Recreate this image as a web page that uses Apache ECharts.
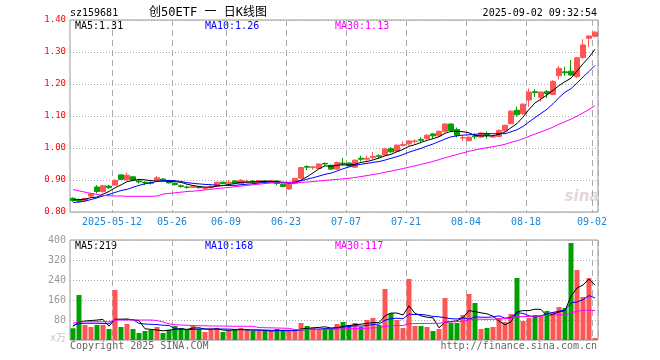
<!DOCTYPE html>
<html><head><meta charset="utf-8">
<script src="https://cdn.jsdelivr.net/npm/echarts@6/dist/echarts.min.js"></script>
<style>html,body{margin:0;padding:0;background:#fff}#c{width:660px;height:360px}</style>
</head><body><div id="c"></div>
<script>
const dates = ['2025-04-28','2025-04-29','2025-04-30','2025-05-06','2025-05-07','2025-05-08','2025-05-09','2025-05-12','2025-05-13','2025-05-14',
'2025-05-15','2025-05-16','2025-05-19','2025-05-20','2025-05-21','2025-05-22','2025-05-23','2025-05-26','2025-05-27','2025-05-28',
'2025-05-29','2025-05-30','2025-06-03','2025-06-04','2025-06-05','2025-06-06','2025-06-09','2025-06-10','2025-06-11','2025-06-12',
'2025-06-13','2025-06-16','2025-06-17','2025-06-18','2025-06-19','2025-06-20','2025-06-23','2025-06-24','2025-06-25','2025-06-26',
'2025-06-27','2025-06-30','2025-07-01','2025-07-02','2025-07-03','2025-07-04','2025-07-07','2025-07-08','2025-07-09','2025-07-10',
'2025-07-11','2025-07-14','2025-07-15','2025-07-16','2025-07-17','2025-07-18','2025-07-21','2025-07-22','2025-07-23','2025-07-24',
'2025-07-25','2025-07-28','2025-07-29','2025-07-30','2025-07-31','2025-08-01','2025-08-04','2025-08-05','2025-08-06','2025-08-07',
'2025-08-08','2025-08-11','2025-08-12','2025-08-13','2025-08-14','2025-08-15','2025-08-18','2025-08-19','2025-08-20','2025-08-21',
'2025-08-22','2025-08-25','2025-08-26','2025-08-27','2025-08-28','2025-08-29','2025-09-01','2025-09-02'];
const opens = [0.843,0.838,0.836,0.850,0.878,0.864,0.881,0.884,0.916,0.901, 0.910,0.897,0.893,0.892,0.899,0.903,0.896,0.889,0.882,0.878,
0.877,0.878,0.874,0.876,0.881,0.893,0.890,0.897,0.888,0.893, 0.896,0.892,0.897,0.893,0.897,0.887,0.872,0.889,0.906,0.942,
0.939,0.936,0.952,0.946,0.934,0.953,0.953,0.940,0.968,0.965, 0.970,0.976,0.978,0.998,0.990,1.008,1.013,1.020,1.027,1.030,
1.044,1.038,1.052,1.075,1.058,1.031,1.023,1.038,1.034,1.045, 1.034,1.036,1.054,1.076,1.118,1.107,1.150,1.176,1.158,1.176,
1.167,1.226,1.238,1.240,1.223,1.283,1.343,1.349];
const closes = [0.836,0.834,0.842,0.857,0.864,0.882,0.876,0.899,0.902,0.915, 0.900,0.894,0.891,0.890,0.907,0.900,0.891,0.886,0.880,0.877,
0.880,0.876,0.876,0.879,0.893,0.889,0.893,0.890,0.899,0.895, 0.893,0.898,0.895,0.898,0.889,0.880,0.886,0.905,0.939,0.940,
0.941,0.950,0.950,0.934,0.955,0.950,0.944,0.962,0.965,0.968, 0.974,0.974,0.997,0.988,1.009,1.011,1.022,1.022,1.024,1.040,
1.038,1.052,1.075,1.055,1.040,1.033,1.034,1.035,1.047,1.039, 1.037,1.055,1.071,1.115,1.104,1.137,1.175,1.173,1.175,1.170,
1.208,1.249,1.235,1.228,1.282,1.322,1.350,1.362];
const lows = [0.832,0.830,0.834,0.846,0.858,0.860,0.872,0.882,0.900,0.898, 0.897,0.889,0.884,0.886,0.896,0.898,0.889,0.882,0.876,0.873,
0.875,0.873,0.868,0.874,0.878,0.886,0.887,0.888,0.886,0.890, 0.889,0.890,0.892,0.891,0.884,0.878,0.869,0.887,0.903,0.930,
0.932,0.934,0.945,0.931,0.932,0.944,0.942,0.938,0.958,0.958, 0.964,0.967,0.976,0.985,0.988,1.005,1.008,1.013,1.014,1.027,
1.030,1.035,1.048,1.050,1.033,1.021,1.020,1.028,1.032,1.029, 1.032,1.034,1.051,1.074,1.098,1.103,1.129,1.160,1.145,1.156,
1.165,1.214,1.226,1.225,1.218,1.279,1.316,1.346];
const highs = [0.846,0.842,0.845,0.860,0.884,0.885,0.885,0.902,0.917,0.923, 0.911,0.899,0.896,0.896,0.912,0.906,0.900,0.893,0.886,0.882,
0.882,0.880,0.878,0.884,0.895,0.896,0.899,0.899,0.903,0.902, 0.900,0.900,0.899,0.900,0.899,0.889,0.887,0.907,0.941,0.946,
0.944,0.952,0.955,0.948,0.957,0.969,0.955,0.964,0.976,0.976, 0.987,0.980,1.001,1.003,1.011,1.021,1.024,1.027,1.033,1.043,
1.046,1.055,1.077,1.077,1.064,1.038,1.036,1.046,1.049,1.052, 1.040,1.058,1.073,1.118,1.129,1.140,1.186,1.184,1.177,1.181,
1.212,1.256,1.254,1.275,1.285,1.340,1.352,1.365];
const volumes = [47,180,60,52,60,60,44,200,52,64, 44,28,36,40,52,28,40,56,48,40, 56,44,32,44,48,32,36,44,48,36,
36,36,36,36,44,36,36,36,68,56, 48,44,48,44,64,72,60,68,52,80, 88,60,204,107,80,48,244,56,56,52,
36,44,168,68,68,100,184,148,44,48, 52,88,72,104,248,76,88,100,100,116, 112,132,128,388,280,172,248,8];
const ma5Lead = [0.838,0.839,0.840,0.845];
const ma10Lead = [0.830,0.831,0.834,0.839,0.844,0.850,0.855,0.861,0.867];
const ma30Lead = [0.870,0.866,0.862,0.858,0.855,0.852,0.851,0.850,0.850,0.849,0.849,0.849,0.849,0.849,0.850,0.856,0.858,0.860,0.862,0.864,0.865,0.867,0.869,0.871,0.873,0.875,0.877,0.879,0.881];
const vma5Lead = [55,72,76,78];
const vma10Lead = [58,66,67,67,67,66,65,82,82];
const vma30Lead = [68,72,73,73,73,73,73,80,80,80,80,80,80,80,78,72,65,61,60,59,58,57,57,56,56,56,55,55,55];
const labelIdx = [7,17,26,36,46,56,66,76,87];
const priceMin = 0.8, priceMax = 1.4, priceStep = 0.1;
const volMin = 0, volMax = 400, volStep = 80;
const legendPrice = ['MA5:1.31','MA10:1.26','MA30:1.13'];
const legendVol = ['MA5:219','MA10:168','MA30:117'];

function ma(arr, n, lead) {
  return arr.map((v, i) => {
    if (i < lead.length) return lead[i];
    let s = 0; for (let k = i - n + 1; k <= i; k++) s += arr[k];
    return +(s / n).toFixed(4);
  });
}
const UP = '#ff5555', DOWN = '#00a000';
const MONO = '"DejaVu Sans Mono", monospace';
const kdata = opens.map((o, i) => [o, closes[i], lows[i], highs[i]]);
const vdata = volumes.map((v, i) => ({ value: v, itemStyle: { color: closes[i] >= opens[i] ? UP : DOWN } }));
const showIdx = (i) => labelIdx.indexOf(i) >= 0;
const vSplit = { show: true, interval: (i) => showIdx(i), lineStyle: { color: '#aaa', type: [6, 4], width: 1 } };

const chart = echarts.init(document.getElementById('c'), null, { renderer: 'canvas' });
const lineS = (name, data, color, xi, yi) => ({ name, type: 'line', data, xAxisIndex: xi, yAxisIndex: yi, symbol: 'none', smooth: false,
  lineStyle: { color, width: 1 }, itemStyle: { color }, z: 5, silent: true });
const txt = (text, x, y, fill, font, align) => ({ type: 'text', silent: true, style: { text, x, y, fill, font, textAlign: align || 'left', textVerticalAlign: 'middle' } });

chart.setOption({
  animation: false,
  backgroundColor: '#fff',
  grid: [
    { left: 70, top: 20, width: 528, height: 192, show: true, borderColor: '#999', borderWidth: 1, backgroundColor: 'transparent' },
    { left: 70, top: 240, width: 528, height: 100, show: true, borderColor: '#999', borderWidth: 1, backgroundColor: 'transparent' }
  ],
  xAxis: [
    { type: 'category', gridIndex: 0, data: dates, boundaryGap: true, axisLine: { show: false }, axisTick: { show: false },
      axisLabel: { interval: (i) => showIdx(i), formatter: (v, i) => (i === labelIdx[0] ? v : v.slice(5)),
        color: '#1a86d8', fontFamily: MONO, fontSize: 10, margin: 5, padding: [0, 6, 0, 0] },
      splitLine: vSplit },
    { type: 'category', gridIndex: 1, data: dates, boundaryGap: true, axisLine: { show: false }, axisTick: { show: false },
      axisLabel: { show: false }, splitLine: vSplit }
  ],
  yAxis: [
    { type: 'value', gridIndex: 0, min: priceMin, max: priceMax, interval: priceStep, axisLine: { show: false }, axisTick: { show: false },
      axisLabel: { color: '#ff0000', fontFamily: MONO, fontSize: 9, margin: 4, formatter: (v) => v.toFixed(2) },
      splitLine: { show: true, lineStyle: { color: '#aaa', type: [1, 2], width: 1 } } },
    { type: 'value', gridIndex: 1, min: volMin, max: volMax, interval: volStep, axisLine: { show: false }, axisTick: { show: false },
      axisLabel: { color: '#999', fontFamily: MONO, fontSize: 10, margin: 4, formatter: (v) => (v === 0 ? '' : String(v)) },
      splitLine: { show: true, lineStyle: { color: '#aaa', type: [1, 2], width: 1 } } }
  ],
  series: [
    { name: 'K', type: 'candlestick', data: kdata, xAxisIndex: 0, yAxisIndex: 0, barWidth: 5, silent: true,
      itemStyle: { color: UP, color0: DOWN, borderColor: UP, borderColor0: DOWN, borderWidth: 1 } },
    lineS('MA5', ma(closes, 5, ma5Lead), '#000000', 0, 0),
    lineS('MA10', ma(closes, 10, ma10Lead), '#0000ff', 0, 0),
    lineS('MA30', ma(closes, 30, ma30Lead), '#ff00ff', 0, 0),
    { name: 'VOL', type: 'bar', data: vdata, xAxisIndex: 1, yAxisIndex: 1, barWidth: 5, silent: true },
    lineS('VMA5', ma(volumes, 5, vma5Lead), '#000000', 1, 1),
    lineS('VMA10', ma(volumes, 10, vma10Lead), '#0000ff', 1, 1),
    lineS('VMA30', ma(volumes, 30, vma30Lead), '#ff00ff', 1, 1)
  ],
  graphic: { elements: [
    txt('sz159681', 70, 13, '#000', '10px ' + MONO),
    txt('创50ETF 一 日K线图', 208, 13, '#000', '12px "DejaVu Sans Mono", "Noto Sans CJK SC"', 'center'),
    txt('2025-09-02 09:32:54', 597, 13, '#000', '10px ' + MONO, 'right'),
    txt(legendPrice[0], 75, 26, '#000', '10px ' + MONO),
    txt(legendPrice[1], 205, 26, '#0000ff', '10px ' + MONO),
    txt(legendPrice[2], 335, 26, '#ff00ff', '10px ' + MONO),
    txt(legendVol[0], 75, 246, '#000', '10px ' + MONO),
    txt(legendVol[1], 205, 246, '#0000ff', '10px ' + MONO),
    txt(legendVol[2], 335, 246, '#ff00ff', '10px ' + MONO),
    txt('x万', 66, 338, '#c8c8c8', '10px ' + MONO + ', "Noto Sans CJK SC"', 'right'),
    txt('Copyright 2025 SINA.COM', 70, 346, '#666', '10px ' + MONO),
    txt('http://finance.sina.com.cn', 597, 346, '#666', '10px ' + MONO, 'right'),
    txt('sina', 582, 197, '#e2d6d6', 'italic bold 15px "DejaVu Sans"', 'center')
  ] }
});
</script></body></html>
